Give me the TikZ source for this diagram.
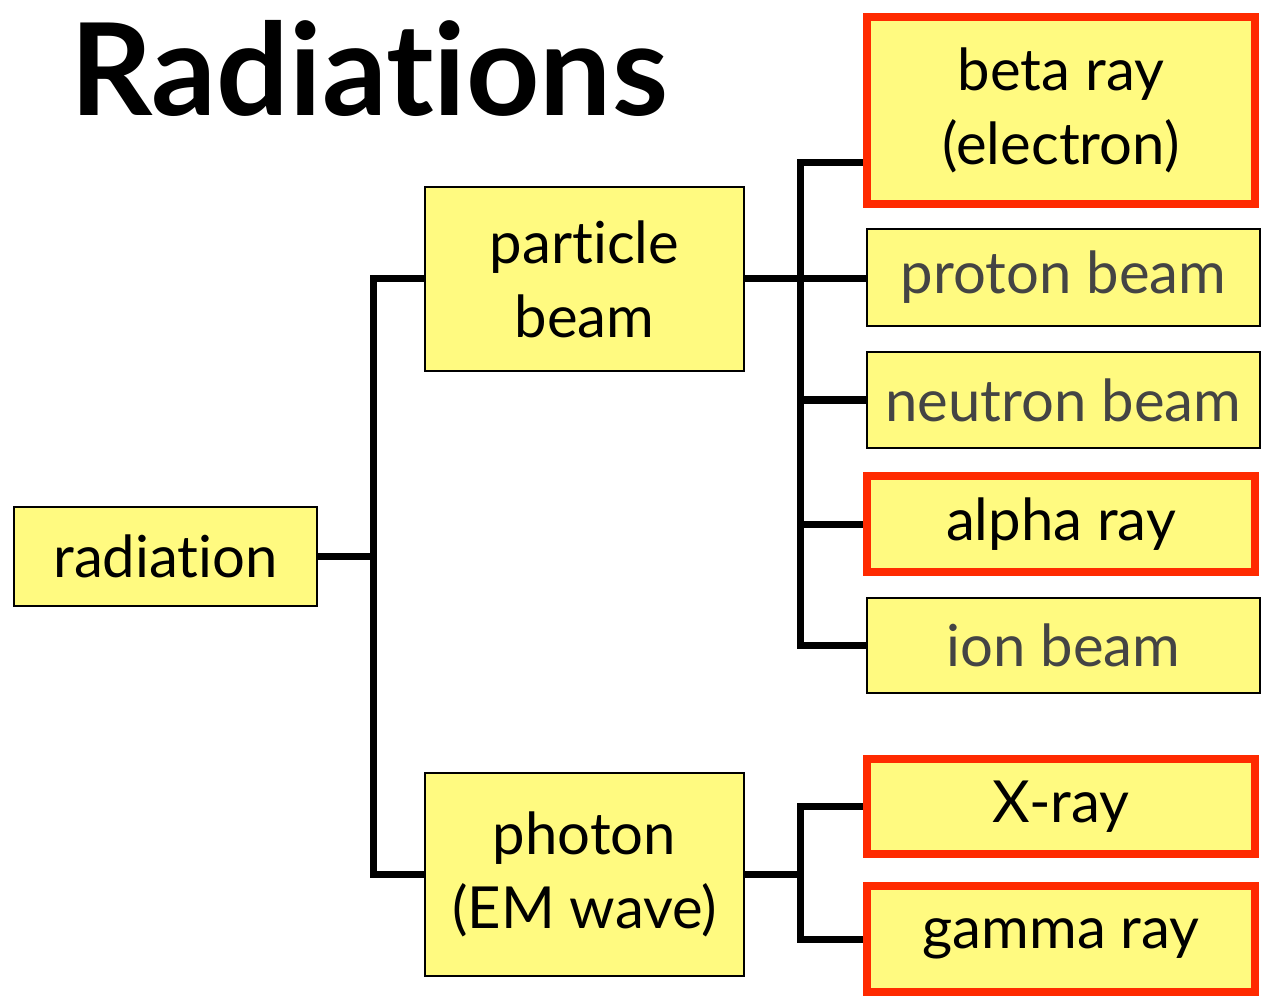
\documentclass[tikz,border=0pt]{standalone}
\usepackage{fontspec}
\setmainfont{Lato}[Ligatures=NoCommon]
\usepackage{xcolor}
\usetikzlibrary{positioning, calc}

\definecolor{boxyellow}{RGB}{255,250,128}
\definecolor{boxred}{RGB}{255,42,0}
\definecolor{greytext}{RGB}{68,68,68}

\begin{document}
\begin{tikzpicture}[
    x=0.5pt, y=-0.5pt,
    every node/.style={font=\fontsize{29}{37}\selectfont},
    box/.style={draw, line width=1pt, fill=boxyellow, align=center,
                inner sep=0pt},
    redbox/.style={box, draw=boxred, line width=4pt},
    dim/.style={text=greytext},
    wire/.style={line width=3.5pt, line join=miter},
]
\useasboundingbox (0,0) rectangle (1261,999);

\node[anchor=base west, inner sep=0pt, font=\fontsize{64}{76}\selectfont\bfseries]
    (title) at (70,116) {Radiations};

\node[box, minimum width=151.5pt, minimum height=49.5pt] (radiation) at (165.5,556.5) {radiation};
\node[box, minimum width=159.5pt, minimum height=92pt] (particle) at (584.5,279) {particle\\beam};
\node[box, minimum width=159.5pt, minimum height=101.5pt] (photon) at (584.5,874.5) {photon\\(EM wave)};

\node[redbox, minimum width=194pt, minimum height=93.5pt] (beta) at (1061,110.5) {beta ray\\(electron)};
\node[box, dim, minimum width=196.5pt, minimum height=48.5pt] (proton) at (1063.5,277.5) {proton beam};
\node[box, dim, minimum width=196.5pt, minimum height=48pt] (neutron) at (1063.5,400) {neutron beam};
\node[redbox, minimum width=194pt, minimum height=48pt] (alpha) at (1061,524) {alpha ray};
\node[box, dim, minimum width=196.5pt, minimum height=47.5pt] (ion) at (1063.5,645.5) {ion beam};
\node[redbox, minimum width=194pt, minimum height=47.5pt] (xray) at (1061,806.5) {X-ray};
\node[redbox, minimum width=194pt, minimum height=53pt] (gamma) at (1061,939) {gamma ray};

% radiation -> particle / photon
\coordinate (rsplit) at (373,556.5);
\draw[wire] (radiation.east) -- (rsplit);
\draw[wire] (particle.west) -| (rsplit) |- (photon.west);

% particle beam -> its kinds
\coordinate (psplit) at (800,279);
\coordinate (betajoin) at (800,163);
\draw[wire] (particle.east) -- (proton.west |- particle.east);
\draw[wire] (betajoin -| beta.west) -- (betajoin) |- (ion.west);
\draw[wire] (psplit |- neutron.west) -- (neutron.west);
\draw[wire] (psplit |- alpha.west) -- (alpha.west);

% photon -> its kinds
\coordinate (gsplit) at (800,874.5);
\draw[wire] (photon.east) -- (gsplit);
\draw[wire] (xray.west) -| (gsplit) |- (gamma.west);
\end{tikzpicture}
\end{document}
